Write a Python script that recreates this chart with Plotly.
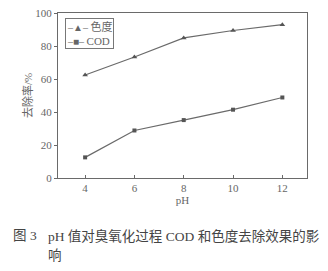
import plotly.graph_objects as go

ph = [4, 6, 8, 10, 12]
color_removal = [62.4, 73.3, 84.9, 89.4, 92.9]
cod_removal = [12.5, 28.8, 35.1, 41.4, 48.8]
x_ticks = [4, 6, 8, 10, 12]
y_ticks = [0, 20, 40, 60, 80, 100]
series_names = ["色度", "COD"]

line_c = "#6a6a6a"
text_c = "#666666"
font_f = "Liberation Serif, Noto Sans CJK SC, serif"

fig = go.Figure()
fig.add_trace(go.Scatter(x=ph, y=color_removal, mode="lines+markers", name=series_names[0],
                         line=dict(color=line_c, width=1.2),
                         marker=dict(symbol="triangle-up", size=5, color="#555")))
fig.add_trace(go.Scatter(x=ph, y=cod_removal, mode="lines+markers", name=series_names[1],
                         line=dict(color=line_c, width=1.2),
                         marker=dict(symbol="square", size=4, color="#555")))

def px(x):
    return (x - 58) / 249.0

def py(y):
    return (178 - y) / 171.0

fig.update_layout(
    width=328, height=271,
    margin=dict(l=58, r=21, t=7, b=93),
    paper_bgcolor="white", plot_bgcolor="white",
    font=dict(family=font_f, color=text_c, size=11),
    showlegend=False,
    xaxis=dict(range=[2.9, 13], tickvals=x_ticks, ticks="inside", ticklen=3,
               tickcolor=line_c, showline=True, linecolor=line_c, linewidth=1,
               mirror=True, showgrid=False, zeroline=False,
               tickfont=dict(size=11, color=text_c),
               title=dict(text="pH", font=dict(size=11, color=text_c), standoff=2)),
    yaxis=dict(range=[0, 100], tickvals=y_ticks, ticks="outside", ticklen=3,
               tickcolor=line_c, showline=True, linecolor=line_c, linewidth=1,
               mirror=True, showgrid=False, zeroline=False,
               tickfont=dict(size=11, color=text_c),
               title=dict(text="去除率/%", font=dict(size=11, color=text_c), standoff=0)),
)

# compact legend box
legend_text = ("<span style='font-size:10px'>–▲– </span>" + series_names[0] +
               "<br><span style='font-size:10px'>–■– </span>" + series_names[1])
fig.add_annotation(xref="paper", yref="paper", x=px(65), y=py(12), xanchor="left", yanchor="top",
                   text=legend_text, showarrow=False, align="left",
                   bordercolor="#777", borderwidth=1, borderpad=1, bgcolor="white",
                   font=dict(size=11, color=text_c, family=font_f))

cap_font = dict(size=13.5, color="#444", family=font_f)
fig.add_annotation(xref="paper", yref="paper", x=px(11), y=py(238), xanchor="left", yanchor="middle",
                   text="图", showarrow=False, font=cap_font)
fig.add_annotation(xref="paper", yref="paper", x=px(28), y=py(238), xanchor="left", yanchor="middle",
                   text="3", showarrow=False, font=cap_font)
fig.add_annotation(xref="paper", yref="paper", x=px(46), y=py(238), xanchor="left", yanchor="middle",
                   text="pH 值对臭氧化过程 COD 和色度去除效果的影", showarrow=False, font=cap_font)
fig.add_annotation(xref="paper", yref="paper", x=px(46), y=py(258), xanchor="left", yanchor="middle",
                   text="响", showarrow=False, font=cap_font)

fig.write_html("out.html")
